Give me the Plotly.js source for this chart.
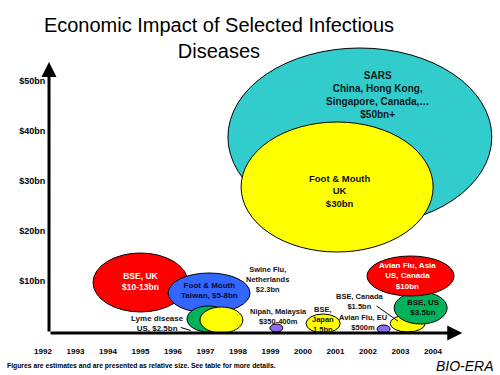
<!DOCTYPE html>
<html>
<head>
<meta charset="utf-8">
<script src="https://cdn.plot.ly/plotly-3.0.1.min.js"></script>
<style>html,body{margin:0;padding:0;background:#fff;}#chart{width:500px;height:375px;}</style>
</head>
<body>
<div id="chart"></div>
<script>
// ---- data ----
const bubbleNames = ['SARS', 'Foot & Mouth UK', 'BSE UK', 'Foot & Mouth Taiwan', 'Lyme disease US', '1997 (unlabelled)',
  'Nipah Malaysia', 'BSE Japan', 'Avian Flu EU', 'BSE Canada', 'BSE US', 'Avian Flu Asia'];
const bubbleYear   = [2001.75, 2001.05, 1995.0, 1997.11, 1997.09, 1997.49, 1999.18, 2000.62, 2002.48, 2003.22, 2003.62, 2003.31];
const bubbleValue  = [38.8, 28.8, 9.7, 7.6, 2.4, 2.2, 0.6, 1.5, 0.4, 1.5, 4.6, 11.0];   // $bn, centre height
const bubbleWidth  = [8.12, 5.91, 2.92, 2.52, 1.32, 1.32, 0.40, 1.05, 0.40, 1.08, 1.63, 2.68]; // years
const bubbleHeight = [35.6, 26.0, 11.8, 8.0, 5.2, 5.2, 1.6, 3.8, 1.6, 3.4, 6.4, 8.0];        // $bn

const labelText = ['SARS<br>China, Hong Kong,<br>Singapore, Canada,…<br>$50bn+', 'Foot & Mouth<br>UK<br>$30bn',
  'BSE, UK<br>$10-13bn', 'Foot & Mouth<br>Taiwan, $5-8bn', 'Lyme disease<br>US, $2.5bn', 'Swine Flu,<br>Netherlands<br>$2.3bn',
  'Nipah, Malaysia<br>$350-400m', 'BSE,<br>Japan<br>1.5bn', 'BSE, Canada<br>$1.5bn', 'Avian Flu, EU<br>$500m',
  'Avian Flu, Asia<br>US, Canada<br>$10bn', 'BSE, US<br>$3.5bn'];
const labelYear  = [2002.28, 2001.11, 1994.99, 1997.11, 1995.51, 1998.92, 1999.26, 2000.62, 2001.75, 2001.85, 2003.23, 2003.72];
const labelValue = [47.2, 28.0, 9.9, 8.2, 1.5, 10.3, 3.0, 2.3, 6.0, 1.8, 11.1, 4.8];

const pointerFromYear = [1996.19, 2002.22];
const pointerFromValue = [0.8, 5.2];
const pointerToYear = [1996.55, 2002.92];
const pointerToValue = [0.1, 2.0];

const yearTicks = [1992, 1993, 1994, 1995, 1996, 1997, 1998, 1999, 2000, 2001, 2002, 2003, 2004];
const valueTicks = [10, 20, 30, 40, 50];
const valueTickText = ['$10bn', '$20bn', '$30bn', '$40bn', '$50bn'];

// ---- styles ----
const fills = ['#33CCCC', '#FFFF00', '#FF0000', '#3366FF', '#00B35A', '#FFFF00', '#8F6BF0', '#FFFF00', '#8F6BF0', '#FFFF00', '#00B35A', '#FF0000'];
const labelStyle = [
  {size: 10, color: '#0a1a1a'}, {size: 9.5, color: '#111'}, {size: 8.5, color: '#fff'}, {size: 8, color: '#0a0a33'},
  {size: 8, color: '#111'}, {size: 7.5, color: '#111'}, {size: 7.5, color: '#111'}, {size: 7.5, color: '#111'},
  {size: 7.5, color: '#111'}, {size: 7.5, color: '#111'}, {size: 8, color: '#fff'}, {size: 8, color: '#111'}
];
const FONT = 'Liberation Sans, Arial, sans-serif';

const xRange = [1990.677, 2006.062];
const yRange = [-8.8, 66.2];
const axisYear = 1992.185, axisVal = -0.4;

const shapes = bubbleYear.map((x, i) => ({
  type: 'circle', xref: 'x', yref: 'y',
  x0: x - bubbleWidth[i] / 2, x1: x + bubbleWidth[i] / 2,
  y0: bubbleValue[i] - bubbleHeight[i] / 2, y1: bubbleValue[i] + bubbleHeight[i] / 2,
  fillcolor: fills[i], line: {color: '#000', width: 1}, layer: 'above'
}));

const annotations = labelText.map((t, i) => ({
  text: '<b>' + t + '</b>', x: labelYear[i], y: labelValue[i], xref: 'x', yref: 'y',
  showarrow: false, xanchor: 'center', yanchor: 'middle', align: 'center',
  font: {family: FONT, size: labelStyle[i].size, color: labelStyle[i].color}
}));

pointerFromYear.forEach((x, i) => annotations.push({
  x: pointerToYear[i], y: pointerToValue[i], ax: x, ay: pointerFromValue[i],
  xref: 'x', yref: 'y', axref: 'x', ayref: 'y', text: '', showarrow: true,
  arrowhead: 0, arrowwidth: 1, arrowcolor: '#000', standoff: 0, startstandoff: 0
}));

// axis arrows
annotations.push({x: 2004.9, y: axisVal, ax: axisYear, ay: axisVal, xref: 'x', yref: 'y', axref: 'x', ayref: 'y',
  text: '', showarrow: true, arrowhead: 2, arrowsize: 1, arrowwidth: 3, arrowcolor: '#000', standoff: 0});
annotations.push({x: axisYear, y: 53.8, ax: axisYear, ay: axisVal, xref: 'x', yref: 'y', axref: 'x', ayref: 'y',
  text: '', showarrow: true, arrowhead: 2, arrowsize: 1, arrowwidth: 3, arrowcolor: '#000', standoff: 0});

annotations.push({text: '<b>Figures are estimates and are presented as relative size. See table for more details.</b>',
  x: 5 / 500, y: 1 - 366 / 375, xref: 'paper', yref: 'paper', xanchor: 'left', yanchor: 'middle', showarrow: false,
  font: {family: FONT, size: 6.8, color: '#000'}});
annotations.push({text: '<i>BIO-ERA</i>', x: 496 / 500, y: 1 - 366 / 375, xref: 'paper', yref: 'paper',
  xanchor: 'right', yanchor: 'middle', showarrow: false, font: {family: FONT, size: 14, color: '#000'}});

const trace = {
  x: bubbleYear, y: bubbleValue, text: bubbleNames, type: 'scatter', mode: 'markers',
  marker: {size: 1, opacity: 0}, hoverinfo: 'text', showlegend: false
};

const layout = {
  width: 500, height: 375, margin: {l: 0, r: 0, t: 0, b: 0},
  paper_bgcolor: '#fff', plot_bgcolor: '#fff', showlegend: false,
  title: {text: 'Economic Impact of Selected Infectious<br>Diseases', x: 219 / 500, xanchor: 'center',
    y: 1 - 32 / 375, yanchor: 'middle', yref: 'container', font: {family: FONT, size: 20, color: '#000'}},
  xaxis: {range: xRange, domain: [0, 1], anchor: 'free', position: (375 - 333) / 375, showgrid: false, zeroline: false,
    showline: false, tickvals: yearTicks, ticktext: yearTicks.map(String), ticks: 'outside', ticklen: 10,
    tickcolor: 'rgba(0,0,0,0)', tickfont: {family: FONT, size: 8, color: '#000', weight: 'bold'}, fixedrange: true},
  yaxis: {range: yRange, domain: [0, 1], anchor: 'free', position: 49 / 500, side: 'left', showgrid: false, zeroline: false,
    showline: false, tickvals: valueTicks, ticktext: valueTickText, ticks: 'outside', ticklen: 2,
    tickcolor: 'rgba(0,0,0,0)', tickfont: {family: FONT, size: 9, color: '#000', weight: 'bold'}, fixedrange: true},
  shapes: shapes, annotations: annotations, hovermode: false
};

Plotly.newPlot('chart', [trace], layout, {displayModeBar: false, staticPlot: true});
</script>
</body>
</html>
